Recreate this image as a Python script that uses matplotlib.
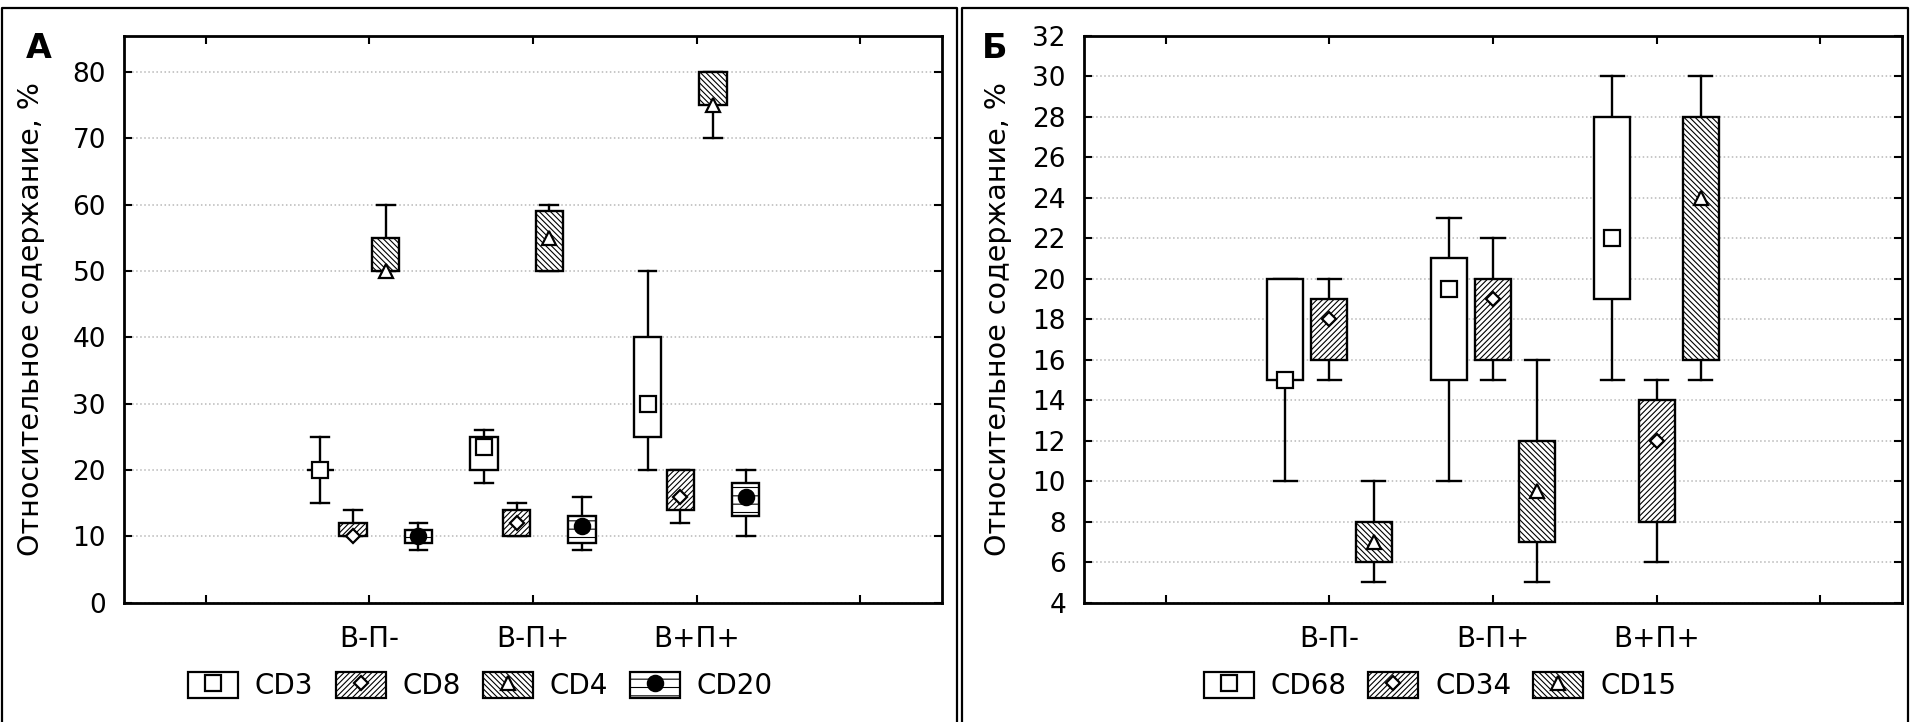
import numpy as np
import matplotlib.pyplot as plt
from matplotlib.patches import Patch
from matplotlib.lines import Line2D

plt.rcParams['font.family'] = ['DejaVu Sans']
plt.rcParams['hatch.linewidth'] = 0.8

groups = ['В-П-', 'В-П+', 'В+П+']
ylabel = 'Относительное содержание, %'

# each row: min, q1, median, q3, max for one group
cd3 = [[15, 20, 20, 20, 25], [18, 20, 23.5, 25, 26], [20, 25, 30, 40, 50]]
cd8 = [[10, 10, 10, 12, 14], [10, 10, 12, 14, 15], [12, 14, 16, 20, 20]]
cd4 = [[50, 50, 50, 55, 60], [50, 50, 55, 59, 60], [70, 75, 75, 80, 80]]
cd20 = [[8, 9, 10, 11, 12], [8, 9, 11.5, 13, 16], [10, 13, 16, 18, 20]]

cd68 = [[10, 15, 15, 20, 20], [10, 15, 19.5, 21, 23], [15, 19, 22, 28, 30]]
cd34 = [[15, 16, 18, 19, 20], [15, 16, 19, 20, 22], [6, 8, 12, 14, 15]]
cd15 = [[5, 6, 7, 8, 10], [5, 7, 9.5, 12, 16], [15, 16, 24, 28, 30]]

styles = {
    'CD3': ('', 's', 'white', 11), 'CD68': ('', 's', 'white', 11),
    'CD8': ('//////', 'D', 'white', 7.5), 'CD34': ('//////', 'D', 'white', 7.5),
    'CD4': ('\\\\\\\\\\\\', '^', 'white', 10), 'CD15': ('\\\\\\\\\\\\', '^', 'white', 10),
    'CD20': ('--', 'o', 'black', 11),
}

W, H = 1911, 722
fig = plt.figure(figsize=(W / 100, H / 100), dpi=100)

centers = np.array([1.5, 2.5, 3.5])


def draw_panel(ax, series, names, offsets, width, ylim, yticks, lx, legx):
    for data, name, off in zip(series, names, offsets):
        hatch, marker, mfc, ms = styles[name]
        stats = [dict(whislo=r[0], q1=r[1], med=r[2], q3=r[3], whishi=r[4]) for r in data]
        pos = centers + off
        bp = ax.bxp(stats, positions=pos, widths=width, capwidths=width * 0.65,
                    showfliers=False, patch_artist=True, manage_ticks=False,
                    boxprops=dict(facecolor='white', edgecolor='black', linewidth=1.7, hatch=hatch),
                    whiskerprops=dict(color='black', linewidth=1.7),
                    capprops=dict(color='black', linewidth=1.7),
                    medianprops=dict(linewidth=0))
        for b in bp['boxes']:
            b.set_zorder(3)
        ax.plot(pos, [r[2] for r in data], ls='none', marker=marker, ms=ms,
                mfc=mfc, mec='black', mew=1.6, zorder=5)

    ax.set_xlim(0, 5)
    ax.set_ylim(*ylim)
    ax.set_yticks(yticks)
    ax.set_xticks(np.arange(0.5, 5, 1))
    ax.set_xticklabels([''] + groups + [''])
    ax.tick_params(direction='in', length=6, width=1.5, top=True, right=True)
    ax.tick_params(axis='y', pad=13, labelsize=19)
    ax.tick_params(axis='x', pad=16, labelsize=20)
    ax.yaxis.grid(True, linestyle=':', color='#b8b8b8', linewidth=1.1)
    ax.set_axisbelow(True)
    for s in ax.spines.values():
        s.set_linewidth(2)
    ax.set_ylabel(ylabel, fontsize=20.5)
    ax.yaxis.set_label_coords(lx, 0.5)

    handles = []
    for name in names:
        hatch, marker, mfc, ms = styles[name]
        p = Patch(facecolor='white', edgecolor='black', hatch=hatch, linewidth=1.6)
        m = Line2D([], [], ls='none', marker=marker, ms=ms, mfc=mfc, mec='black', mew=1.6)
        handles.append((p, m))
    ax.legend(handles, names, loc='center', bbox_to_anchor=(legx, -0.147), ncol=len(names),
              frameon=False, fontsize=20, handlelength=1.8, handleheight=1.1,
              handletextpad=0.6, columnspacing=0.8, borderpad=0.2)


axA = fig.add_axes([124 / W, 1 - 602.7 / H, 818 / W, 567 / H])
draw_panel(axA, [cd3, cd8, cd4, cd20], ['CD3', 'CD8', 'CD4', 'CD20'],
           [-0.3, -0.1, 0.1, 0.3], 0.167, (0, 85.5), np.arange(0, 81, 10), -0.0966, 0.436)

axB = fig.add_axes([1084 / W, 1 - 602.7 / H, 818 / W, 567 / H])
draw_panel(axB, [cd68, cd34, cd15], ['CD68', 'CD34', 'CD15'],
           [-0.27, 0.0, 0.27], 0.22, (4, 32), np.arange(4, 33, 2), -0.088, 0.435)

fig.text(26 / W, 1 - 32 / H, 'А', fontsize=24, fontweight='bold', va='top', ha='left')
fig.text(982 / W, 1 - 32 / H, 'Б', fontsize=24, fontweight='bold', va='top', ha='left')

# panel frames
for x0, x1 in [(2, 957), (962, 1908)]:
    xs = [x0 / W, x0 / W, x1 / W, x1 / W]
    ys = [-0.05, 1 - 8 / H, 1 - 8 / H, -0.05]
    fig.add_artist(Line2D(xs, ys, color='black', linewidth=1.6))

fig.savefig('out.png', dpi=100)
